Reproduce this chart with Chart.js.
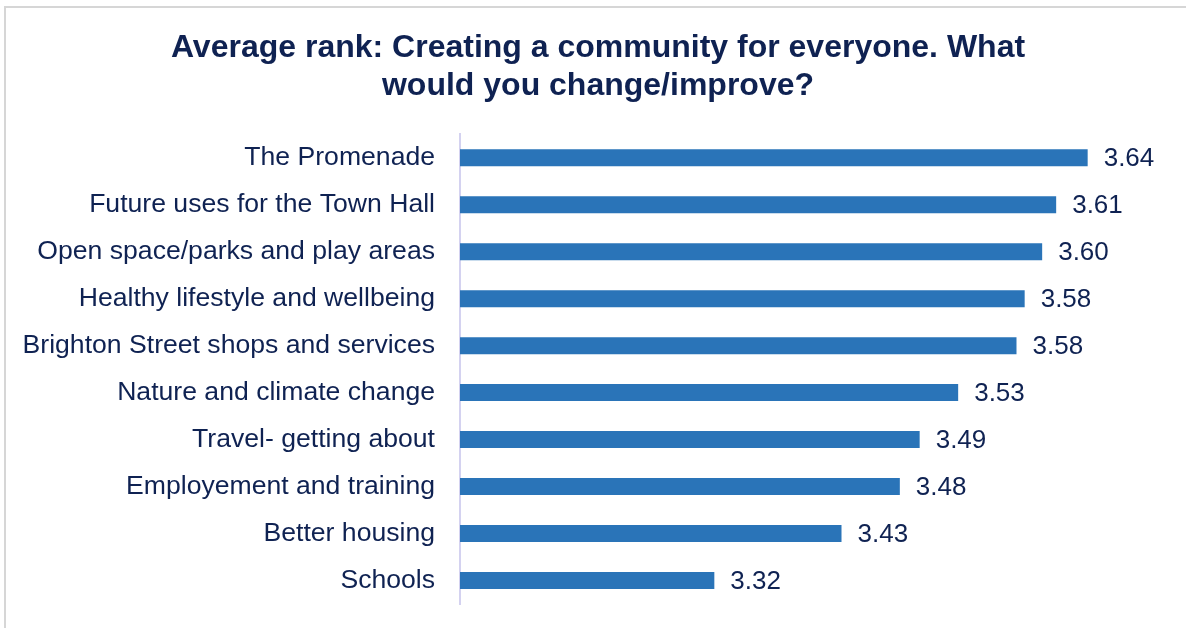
<!DOCTYPE html>
<html>
<head>
<meta charset="utf-8">
<script src="https://cdn.jsdelivr.net/npm/chart.js@4"></script>
<style>
    html, body { margin: 0; padding: 0; background: #ffffff; }
    #wrap { position: relative; width: 1186px; height: 628px; }
</style>
</head>
<body>
<div id="wrap"><canvas id="barChart"></canvas></div>
<script>
const categories = [
    'The Promenade',
    'Future uses for the Town Hall',
    'Open space/parks and play areas',
    'Healthy lifestyle and wellbeing',
    'Brighton Street shops and services',
    'Nature and climate change',
    'Travel- getting about',
    'Employement and training',
    'Better housing',
    'Schools'
];
const averageRank = [3.638, 3.611, 3.599, 3.584, 3.577, 3.527, 3.494, 3.477, 3.427, 3.318];
const titleLines = ['Average rank: Creating a community for everyone. What', 'would you change/improve?'];

const navy = '#0f2252';
const fontFamily = '"Liberation Sans", Arial, sans-serif';

// light grey frame along the top and left edges
const framePlugin = {
    id: 'frame',
    beforeDraw(chart) {
        const ctx = chart.ctx;
        ctx.save();
        ctx.strokeStyle = '#d6d6d6';
        ctx.lineWidth = 2;
        ctx.beginPath();
        ctx.moveTo(5, 628);
        ctx.lineTo(5, 7);
        ctx.lineTo(1186, 7);
        ctx.stroke();
        ctx.restore();
    }
};

// the title sits a bit right of the plot centre in the original
const titleShift = {
    id: 'titleShift',
    afterLayout(chart) {
        if (chart.titleBlock) {
            chart.titleBlock.left += 36;
        }
    }
};

// value labels at the end of each bar
const valueLabels = {
    id: 'valueLabels',
    afterDatasetsDraw(chart) {
        const ctx = chart.ctx;
        const meta = chart.getDatasetMeta(0);
        ctx.save();
        ctx.fillStyle = navy;
        ctx.font = '26px ' + fontFamily;
        ctx.textAlign = 'left';
        ctx.textBaseline = 'middle';
        meta.data.forEach((bar, i) => {
            ctx.fillText(averageRank[i].toFixed(2), bar.x + 16, bar.y + 1);
        });
        ctx.restore();
    }
};

function buildChart() {
    const ctx = document.getElementById('barChart').getContext('2d');

    new Chart(ctx, {
        type: 'bar',
        data: {
            labels: categories,
            datasets: [
                {
                    data: averageRank,
                    backgroundColor: '#2a74b8',
                    borderWidth: 0,
                    barPercentage: 0.362,
                    categoryPercentage: 1
                }
            ]
        },
        options: {
            indexAxis: 'y',
            responsive: true,
            maintainAspectRatio: false,
            animation: false,
            layout: {
                padding: { left: 0, right: 26, top: 0, bottom: 24 }
            },
            scales: {
                x: {
                    display: false,
                    min: 3.1,
                    max: 3.7
                },
                y: {
                    grid: { display: false, drawTicks: false },
                    border: { display: true, color: '#d4d2f0', width: 2 },
                    ticks: {
                        color: navy,
                        padding: 25,
                        font: { family: fontFamily, size: 26.6 }
                    },
                    afterFit: function (scale) {
                        scale.width = 460;
                        scale.paddingTop = 0;
                        scale.paddingBottom = 0;
                    }
                }
            },
            plugins: {
                legend: { display: false },
                tooltip: { enabled: false },
                title: {
                    display: true,
                    text: titleLines,
                    color: navy,
                    font: { family: fontFamily, size: 32, weight: 'bold', lineHeight: 1.16 },
                    padding: { top: 30, bottom: 30 }
                }
            }
        },
        plugins: [framePlugin, titleShift, valueLabels]
    });
}

buildChart();
</script>
</body>
</html>
